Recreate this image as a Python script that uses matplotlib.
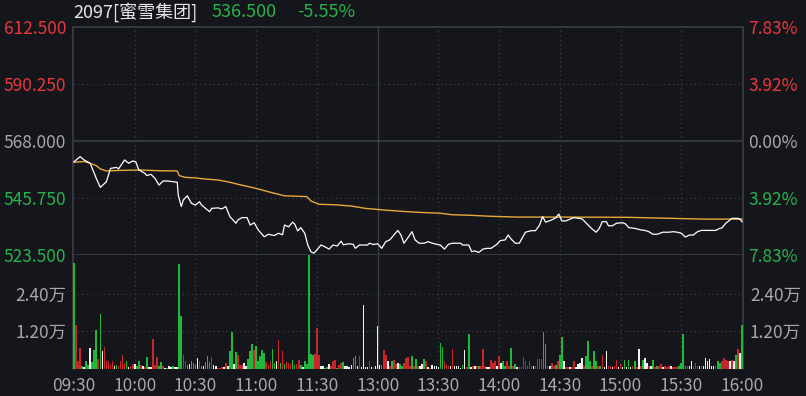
import numpy as np
import matplotlib
matplotlib.use('Agg')
import matplotlib.pyplot as plt

plt.rcParams['font.family'] = ['Noto Sans CJK SC', 'DejaVu Sans']

# ---- data ----
stock_name = '2097[蜜雪集团]'
prev_close = 568.0
last_price = 536.5

# minute index from 09:30 (lunch break removed, 0..330)
price_t = [0, 3, 5, 8, 11, 13, 16, 18, 21, 22, 25, 27, 29, 30.5, 32, 35, 36, 38, 40, 42,
           44, 46, 49, 51, 51.5, 53, 54, 56, 58, 60, 62, 63, 67, 68, 71, 73, 75, 77, 80, 81,
           83, 85.5, 87, 89, 91, 94, 96, 99, 101, 103, 104, 106, 108, 109, 110.5, 112, 114, 115.5, 117, 118.5,
           120, 122, 124, 126, 128, 130, 132, 133, 136, 138, 139, 141, 145, 146, 148, 150, 152, 154, 156, 158,
           160, 161.5, 163, 165, 167, 168.5, 170.5, 173, 175, 177, 179, 181, 183, 185, 187, 191, 192, 195, 196.5, 198,
           200, 202, 204, 206, 209, 210.5, 213, 214.5, 216, 218, 220, 223, 226, 228, 230, 231.5, 233, 236, 238, 239.5,
           241, 243, 245, 247, 251, 254, 256, 258, 259.5, 261, 263, 264, 266, 268, 271, 272.5, 274, 277, 280, 282,
           284, 286, 288, 291, 294, 296, 298, 300, 302, 304, 306, 308, 310, 317, 319, 320, 322, 323.5, 325, 328,
           329, 330]
price_v = [559.9, 561.9, 560.6, 559.3, 553.4, 549.9, 552.1, 557.3, 557.7, 557.1, 560.6, 559.3, 560.2, 559.9, 556.7, 555.4, 554.5, 555.0, 553.4, 550.8,
           552.4, 552.4, 552.1, 551.9, 546.9, 542.4, 545.0, 546.6, 543.7, 543.0, 544.3, 543.0, 540.4, 541.7, 541.9, 541.5, 542.4, 538.5, 535.9, 537.2,
           538.1, 538.1, 535.2, 536.1, 533.3, 530.6, 531.6, 531.1, 532.0, 531.4, 535.2, 534.5, 536.3, 535.6, 532.9, 534.2, 532.0, 527.4, 524.8, 524.2,
           525.5, 527.4, 526.7, 525.8, 527.4, 527.0, 528.9, 527.5, 527.9, 527.6, 526.1, 527.4, 527.4, 528.1, 527.6, 527.9, 526.1, 528.7, 529.4, 531.3,
           533.1, 531.3, 528.1, 530.3, 532.6, 529.4, 528.1, 528.1, 528.7, 528.1, 527.7, 527.4, 525.8, 527.7, 528.1, 528.1, 527.4, 527.4, 524.8, 525.1,
           524.5, 525.8, 526.1, 526.1, 527.7, 529.1, 529.4, 531.3, 529.7, 528.1, 528.1, 532.4, 533.0, 533.0, 535.2, 538.5, 536.3, 537.2, 538.0, 539.5,
           536.8, 536.8, 537.5, 538.1, 537.6, 535.2, 533.6, 532.4, 533.9, 536.5, 536.5, 534.9, 534.9, 535.9, 536.1, 535.6, 534.2, 533.9, 533.3, 533.1,
           532.6, 531.6, 531.6, 532.4, 532.4, 532.6, 532.4, 532.0, 530.5, 531.3, 531.3, 532.6, 533.1, 533.1, 533.9, 534.0, 535.9, 536.8, 537.8, 537.8,
           537.5, 536.5]

avg_t = [0, 5, 8, 11, 13, 16, 22, 32, 42, 51, 52, 55, 60, 64, 71, 77, 81, 90, 96, 104,
         115, 117, 121, 129, 137, 144, 154, 163, 169, 181, 187, 196, 206, 219, 245, 274, 312, 330]
avg_v = [559.7, 560.0, 559.3, 558.4, 557.1, 556.3, 556.5, 556.7, 556.4, 556.3, 554.5, 553.8, 553.6, 553.2, 552.8, 551.9, 551.1, 549.5, 548.2, 546.6,
         546.3, 544.6, 543.3, 543.1, 542.6, 541.7, 541.0, 540.5, 540.2, 539.8, 539.2, 539.0, 538.6, 538.3, 538.3, 538.2, 537.5, 537.5]

# volume per minute, thousand shares
vol = [33.8, 14.0, 2.6, 6.8, 0.8, 0.5, 2.6, 1.3, 6.8, 2.2,
       6.0, 12.4, 3.3, 17.5, 5.8, 7.0, 2.6, 2.6, 1.3, 2.6,
       0.8, 1.3, 0.8, 2.6, 4.3, 1.9, 2.4, 0.5, 0.8, 1.6,
       1.6, 0.8, 2.6, 1.3, 0.8, 0.5, 3.7, 0.5, 0.5, 9.5,
       1.3, 3.7, 0.8, 2.2, 1.0, 0.3, 0.3, 0.8, 0.5, 1.0,
       0.5, 0.5, 33.3, 16.9, 4.3, 2.6, 1.3, 1.6, 2.4, 1.9,
       1.3, 3.5, 2.6, 0.8, 0.8, 2.2, 4.0, 2.2, 3.7, 1.3,
       0.8, 0.3, 0.3, 0.5, 0.5, 1.9, 0.8, 5.8, 11.7, 1.6,
       5.3, 4.3, 1.3, 1.3, 1.8, 0.8, 3.3, 5.8, 8.0, 6.1,
       7.2, 2.4, 4.0, 6.1, 5.0, 2.2, 1.3, 2.6, 6.4, 1.9,
       2.4, 9.3, 1.9, 5.8, 1.6, 2.2, 1.8, 1.6, 3.0, 1.3,
       1.6, 3.0, 1.3, 0.5, 2.4, 1.6, 38.0, 4.9, 4.3, 4.9,
       12.9, 4.3, 0.8, 0.8, 0.3, 0.5, 1.6, 0.8, 2.6, 3.0,
       0.3, 1.3, 1.8, 2.2, 0.8, 0.8, 0.5, 1.3, 3.5, 4.0,
       0.8, 4.0, 0.5, 20.3, 0.5, 0.5, 2.4, 0.5, 0.5, 0.8,
       13.7, 1.3, 1.3, 5.9, 4.5, 2.7, 1.0, 2.4, 3.0, 1.5,
       1.9, 1.5, 1.0, 1.9, 3.5, 3.8, 1.0, 4.2, 1.0, 3.2,
       0.8, 0.8, 1.5, 3.2, 2.7, 0.6, 0.4, 1.3, 0.8, 1.0,
       0.5, 8.4, 7.0, 2.4, 1.3, 1.0, 1.0, 6.3, 0.8, 0.8,
       1.0, 0.4, 1.3, 6.1, 0.6, 11.1, 0.6, 0.8, 1.0, 0.8,
       0.8, 0.8, 6.3, 0.8, 0.6, 0.6, 3.0, 1.9, 2.7, 1.0,
       4.2, 1.9, 2.7, 1.0, 2.7, 1.0, 6.6, 1.0, 1.5, 0.6,
       0.6, 0.6, 3.8, 2.4, 1.0, 2.4, 0.8, 1.0, 1.0, 3.2,
       3.2, 3.2, 11.9, 8.0, 1.0, 1.0, 1.9, 1.0, 1.3, 2.7,
       4.5, 10.3, 2.4, 0.6, 0.6, 0.6, 0.6, 2.7, 0.6, 1.5,
       1.9, 3.5, 1.0, 4.0, 9.0, 2.4, 1.0, 5.6, 2.7, 1.0,
       1.0, 4.5, 0.6, 5.6, 1.0, 1.0, 0.6, 1.0, 3.0, 0.6,
       1.5, 0.6, 3.0, 0.6, 3.0, 0.6, 1.0, 2.4, 0.6, 6.3,
       0.8, 3.0, 3.5, 2.0, 0.8, 1.0, 3.0, 0.6, 0.8, 1.0,
       1.5, 0.6, 0.8, 0.6, 0.8, 0.8, 0.6, 0.6, 0.6, 1.0,
       1.9, 11.1, 1.0, 0.8, 1.0, 2.4, 1.0, 1.9, 1.0, 1.0,
       0.8, 1.0, 3.5, 2.4, 3.2, 1.0, 1.0, 0.8, 2.7, 1.9,
       2.7, 3.5, 3.0, 2.7, 2.7, 3.0, 2.4, 4.5, 6.3, 5.0,
       14.0]
vol_color = ('grrrgwggwg' 'ggrgwrrrrr' 'wgrrrrgwrr' 'wggrwrgwwr' 'rrggrwgwwg'
             'wwggrrgwgg' 'gwrgwgggrw' 'wrrrwrwggw' 'grrrwwgggr' 'gggggrrrgg'
             'wrgrgrrrgg' 'rrgwgggggr' 'rrwwggwrrr' 'grrgwwwwgg' 'wrwwwwrwrw'
             'wwgrrwrgrr' 'wggrrrrgrg' 'rwwgrwrwww' 'wggrrrwrww' 'wwgwrgwrwr'
             'grrrwwrrrw' 'rwggrrgrgw' 'rrrrrrrwrr' 'rrggrwrrgr' 'ggwrrwrrww'
             'wwrgggrggr' 'grwwrrwrrw' 'rwgwgwrgrw' 'rgwwrwgrgr' 'rwrrrwrrrg'
             'gggrwwrrrw' 'rwwwwwwrgg' 'rrrrwrwgrw' 'g')

time_ticks = [0, 30, 60, 90, 120, 150, 180, 210, 240, 270, 300, 330]
time_labels = ['09:30', '10:00', '10:30', '11:00', '11:30', '13:00',
               '13:30', '14:00', '14:30', '15:00', '15:30', '16:00']
price_ticks = [523.5, 545.75, 568.0, 590.25, 612.5]
vol_ticks = [12000, 24000]
vol_tick_labels = ['1.20万', '2.40万']

# ---- style ----
bg = '#14161b'
grid_c = '#3b3e45'
red = '#e8383d'
green = '#28b24b'
gray = '#a8a8a8'
bar_cols = {'r': '#c8262a', 'g': '#1fb83a', 'w': '#f2f2f2'}

fig = plt.figure(figsize=(8.06, 3.96), dpi=100, facecolor=bg)
ax = fig.add_axes([73/806, 1-255/396, 670/806, 228/396], facecolor=bg)
axv = fig.add_axes([73/806, 1-369/396, 670/806, 114/396], facecolor=bg, sharex=ax)

ax.set_xlim(-0.5, 330.5)
ax.set_ylim(price_ticks[0], price_ticks[-1])
axv.set_ylim(0, 36300)

dots = (0, (1, 2.5))
for t in time_ticks[1:-1]:
    ls = '-' if t == 150 else dots
    ax.axvline(t, color=grid_c, lw=0.9, ls=ls, zorder=0)
    axv.axvline(t, color=grid_c, lw=0.9, ls=ls, zorder=0)
ax.axhline(590.25, color=grid_c, lw=0.9, ls=dots, zorder=0)
ax.axhline(545.75, color=grid_c, lw=0.9, ls=dots, zorder=0)
ax.axhline(prev_close, color=grid_c, lw=1.2, zorder=0)
for v in vol_ticks:
    axv.axhline(v, color=grid_c, lw=0.9, ls=dots, zorder=0)

ax.plot(avg_t, avg_v, color='#e8a83a', lw=1.0, zorder=2)
ax.plot(price_t, price_v, color='white', lw=0.9, zorder=3)

minutes = np.arange(len(vol))
axv.bar(minutes, np.array(vol) * 1000, width=0.8, linewidth=0,
        color=[bar_cols[c] for c in vol_color], zorder=3)

# spines
for a in (ax, axv):
    for s in a.spines.values():
        s.set_color(grid_c)
        s.set_linewidth(1.2)
        s.set_zorder(1)
axv.spines['top'].set_visible(False)
axv.spines['bottom'].set_visible(False)

# left price labels
ax.set_yticks(price_ticks)
ax.set_yticklabels(['%.3f' % p for p in price_ticks])
ax.tick_params(axis='y', length=0, pad=5, labelsize=12.5)
ax.tick_params(axis='x', length=0, labelbottom=False)
for lab, p in zip(ax.get_yticklabels(), price_ticks):
    lab.set_color(red if p > prev_close else green if p < prev_close else gray)

# right percent labels
axr = ax.twinx()
axr.set_ylim(ax.get_ylim())
axr.set_yticks(price_ticks)
axr.set_yticklabels(['%.2f%%' % (abs(p - prev_close) / prev_close * 100) for p in price_ticks])
axr.tick_params(axis='y', length=0, pad=4, labelsize=12.5)
for lab, p in zip(axr.get_yticklabels(), price_ticks):
    lab.set_color(red if p > prev_close else green if p < prev_close else gray)
for s in axr.spines.values():
    s.set_visible(False)

# volume labels
axv.set_yticks(vol_ticks)
axv.set_yticklabels(vol_tick_labels)
axv.tick_params(axis='y', length=0, pad=5, labelsize=12.5, labelcolor=gray,
                labelright=True)
axv.set_xticks(time_ticks)
axv.set_xticklabels(time_labels)
axv.tick_params(axis='x', length=0, pad=6, labelsize=12.5, labelcolor=gray)

# header
fig.text(73/806, 1-12/396, stock_name, color='#e6e6e6', fontsize=13, va='center')
fig.text(212/806, 1-12/396, '%.3f' % last_price, color=green, fontsize=13, va='center')
fig.text(297/806, 1-12/396, '%.2f%%' % ((last_price - prev_close) / prev_close * 100),
         color=green, fontsize=13, va='center')

fig.savefig('out.png', dpi=100, facecolor=bg)
